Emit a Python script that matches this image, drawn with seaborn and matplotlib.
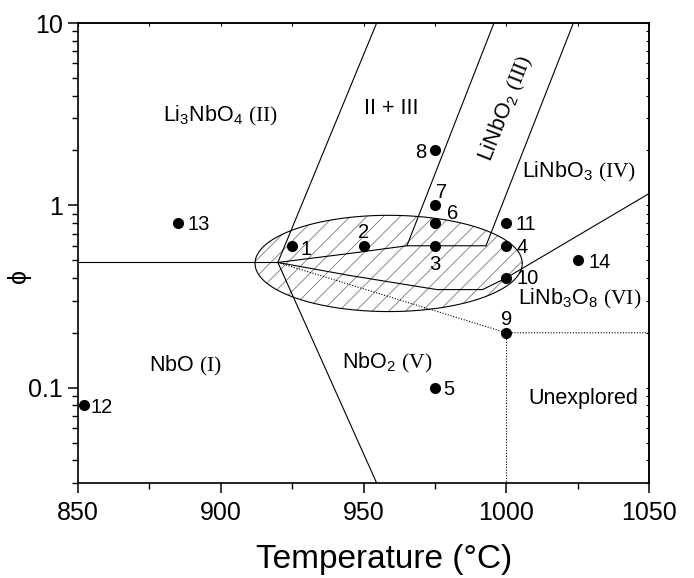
import numpy as np
import pandas as pd
import matplotlib
matplotlib.use("Agg")
import matplotlib.pyplot as plt
import seaborn as sns
from matplotlib.ticker import FixedLocator, LogLocator, NullFormatter, FuncFormatter, MultipleLocator

# ---------------- data ----------------
sample_id = [1, 2, 3, 4, 5, 6, 7, 8, 9, 10, 11, 12, 13, 14]
temperature = [925, 950, 975, 1000, 975, 975, 975, 975, 1000, 1000, 1000, 852, 885, 1025]
phi = [0.6, 0.6, 0.6, 0.6, 0.1, 0.8, 1.0, 2.0, 0.2, 0.4, 0.8, 0.08, 0.8, 0.5]

# phase boundaries (temperature, phi)
b_horiz_T = [850, 920]
b_horiz_phi = [0.486, 0.486]
b_II_T = [920, 954.6]
b_II_phi = [0.486, 10]
b_I_V_T = [920, 954.6]
b_I_V_phi = [0.486, 0.03]
b_upper_T = [920, 945.3, 965.2, 992.9]
b_upper_phi = [0.486, 0.545, 0.6, 0.6]
b_III_left_T = [965.2, 995.7]
b_III_left_phi = [0.6, 10]
b_III_right_T = [992.9, 1023.5]
b_III_right_phi = [0.6, 10]
b_lower_T = [920, 945.3, 975.7, 991.7, 1000, 1050]
b_lower_phi = [0.486, 0.412, 0.345, 0.345, 0.4, 1.16]
b_dot_T = [920, 1000, 1050]
b_dot_phi = [0.486, 0.2, 0.2]
b_dotv_T = [1000, 1000]
b_dotv_phi = [0.2, 0.03]

# hatched ellipse (centre and half-axes: temperature, log10 phi)
ell_center_T = 958.8
ell_center_phi = 0.48
ell_half_T = 46.8
ell_half_decades = 0.264

region_text = [
    "Li$_3$NbO$_4$ $\\mathtt{(II)}$",
    "II + III",
    "LiNbO$_2$ $\\mathtt{(III)}$",
    "LiNbO$_3$ $\\mathtt{(IV)}$",
    "LiNb$_3$O$_8$ $\\mathtt{(VI)}$",
    "NbO$_2$ $\\mathtt{(V)}$",
    "NbO $\\mathtt{(I)}$",
    "Unexplored",
]
region_T = [899.7, 959.8, 998.9, 1025.5, 1025.8, 958.2, 887.7, 1027]
region_phi = [3.2, 3.5, 3.46, 1.58, 0.32, 0.143, 0.137, 0.09]

x_ticks = [850, 900, 950, 1000, 1050]
y_ticks = [0.1, 1, 10]

# ---------------- style ----------------
sns.set_theme(style="ticks")
plt.rcParams["font.family"] = ["Liberation Sans", "DejaVu Sans"]
plt.rcParams["text.color"] = "black"
plt.rcParams["axes.labelcolor"] = "black"
plt.rcParams["xtick.color"] = "black"
plt.rcParams["ytick.color"] = "black"
plt.rcParams["mathtext.fontset"] = "custom"
plt.rcParams["mathtext.rm"] = "Liberation Sans"
plt.rcParams["mathtext.sf"] = "Liberation Sans"
plt.rcParams["mathtext.it"] = "Liberation Sans:italic"
plt.rcParams["mathtext.bf"] = "Liberation Sans:bold"
plt.rcParams["mathtext.tt"] = "Liberation Serif"
plt.rcParams["hatch.linewidth"] = 0.6

fig = plt.figure(figsize=(6.94, 5.78), dpi=100)
ax = fig.add_axes([0.1124, 0.1644, 0.8228, 0.7958])

df = pd.DataFrame({"id": sample_id, "T": temperature, "phi": phi})

ax.set_yscale("log")
ax.set_xlim(850, 1050)
ax.set_ylim(0.03, 10)

# ellipse
t = np.linspace(0, 2 * np.pi, 400)
eT = ell_center_T + ell_half_T * np.cos(t)
ephi = 10 ** (np.log10(ell_center_phi) + ell_half_decades * np.sin(t))
ax.fill(eT, ephi, facecolor="none", edgecolor="#7a7a7a", hatch="//", linewidth=0, zorder=1)
ax.plot(eT, ephi, color="black", lw=0.8, zorder=2)

lw = 0.8
for xs, ys in [(b_horiz_T, b_horiz_phi), (b_II_T, b_II_phi), (b_I_V_T, b_I_V_phi),
               (b_upper_T, b_upper_phi), (b_III_left_T, b_III_left_phi),
               (b_III_right_T, b_III_right_phi), (b_lower_T, b_lower_phi)]:
    ax.plot(xs, ys, color="black", lw=lw, zorder=3, solid_joinstyle="miter")
for xs, ys in [(b_dot_T, b_dot_phi), (b_dotv_T, b_dotv_phi)]:
    ax.plot(xs, ys, color="black", lw=0.8, ls=(0, (1, 1.5)), zorder=3)

sns.scatterplot(data=df, x="T", y="phi", color="black", s=64, linewidth=0,
                ax=ax, zorder=5, legend=False)

# point labels: (dx, dy) in points, ha
label_pos = {
    1: (6, -1, "left"), 2: (0, 11, "center"), 3: (0, -12, "center"),
    4: (7.5, 0, "left"), 5: (6, 0, "left"), 6: (8.5, 8.5, "left"),
    7: (5, 11, "center"), 8: (-6, 0, "right"), 9: (0, 11, "center"),
    10: (7.5, 1, "left"), 11: (7, 0, "left"), 12: (5, 0, "left"),
    13: (7, 0, "left"), 14: (8, 0, "left"),
}
for sid, T, p in zip(sample_id, temperature, phi):
    dx, dy, ha = label_pos[sid]
    ax.annotate(str(sid), (T, p), xytext=(dx, dy), textcoords="offset points",
                ha=ha, va="center_baseline", fontsize=14.5, color="black", zorder=6)

rot = {2: 68.6}
for i, (txt, T, p) in enumerate(zip(region_text, region_T, region_phi)):
    ax.text(T, p, txt, ha="center", va="center_baseline", fontsize=15.5, color="black",
            rotation=rot.get(i, 0), rotation_mode="anchor", zorder=6)

# axes / ticks
ax.xaxis.set_major_locator(FixedLocator(x_ticks))
ax.xaxis.set_minor_locator(MultipleLocator(25))
ax.yaxis.set_major_locator(FixedLocator(y_ticks))
ax.yaxis.set_minor_locator(LogLocator(base=10, subs=np.arange(2, 10)))
ax.yaxis.set_minor_formatter(NullFormatter())
ax.yaxis.set_major_formatter(FuncFormatter(lambda v, pos: f"{v:g}"))
ax.tick_params(which="major", direction="out", length=7, width=1.1, labelsize=18,
               color="black", labelcolor="black", pad=4)
ax.tick_params(which="minor", direction="out", length=4, width=1.0, color="black")
ax.tick_params(axis="x", which="major", pad=6)

for s in ax.spines.values():
    s.set_visible(True)
    s.set_linewidth(1.2)
    s.set_color("black")

secx = ax.secondary_xaxis("top")
secx.xaxis.set_major_locator(FixedLocator(x_ticks))
secx.xaxis.set_minor_locator(MultipleLocator(25))
secx.tick_params(which="both", direction="in", length=2.5, width=0.8, labeltop=False)
secy = ax.secondary_yaxis("right")
secy.set_yscale("log")
secy.yaxis.set_major_locator(FixedLocator(y_ticks))
secy.yaxis.set_minor_locator(LogLocator(base=10, subs=np.arange(2, 10)))
secy.yaxis.set_minor_formatter(NullFormatter())
secy.tick_params(which="both", direction="in", length=2.5, width=0.8, labelright=False)

ax.set_xlabel("Temperature (°C)", fontsize=24, color="black")
ax.xaxis.set_label_coords(0.536, -0.133)
ax.set_ylabel("ϕ", fontsize=18, color="black")
ax.yaxis.set_label_coords(-0.082, 0.45)

fig.savefig("out.png", dpi=100)
